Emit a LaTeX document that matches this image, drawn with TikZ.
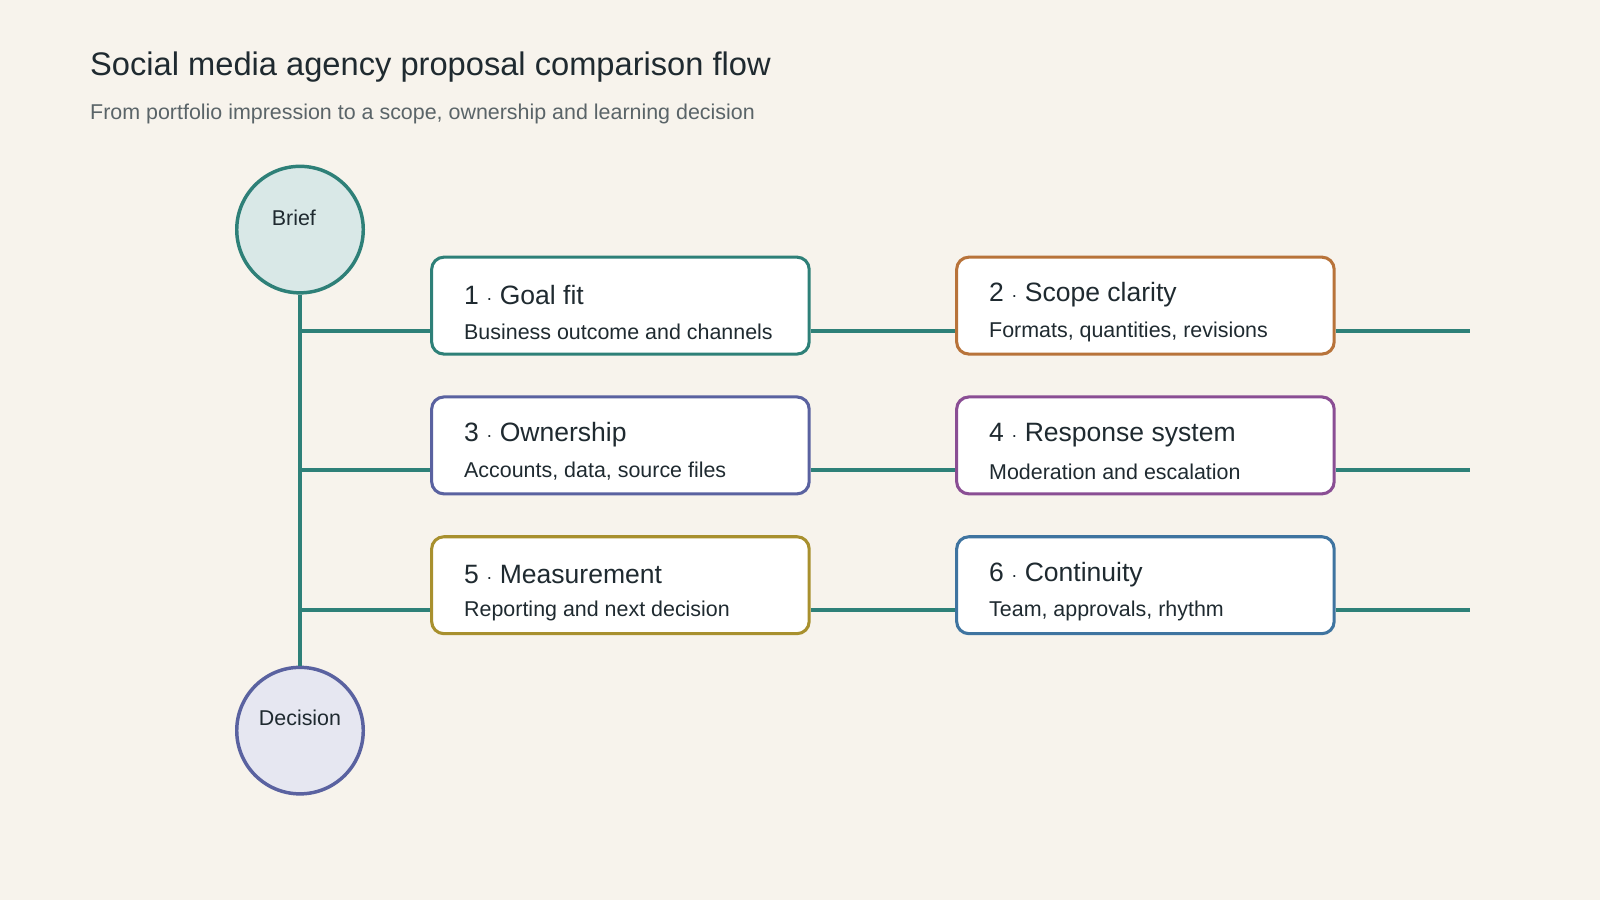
\documentclass[tikz,border=0pt]{standalone}
\usepackage{fontspec}
\setmainfont{Liberation Sans}
\usetikzlibrary{positioning,calc}
\definecolor{paper}{HTML}{F7F3EC}
\definecolor{ink}{HTML}{1F2A30}
\definecolor{muted}{HTML}{5A6468}
\definecolor{teal}{HTML}{2E8078}
\definecolor{copper}{HTML}{B8733A}
\definecolor{slate}{HTML}{5A62A0}
\definecolor{plum}{HTML}{8A4E94}
\definecolor{gold}{HTML}{A8902E}
\definecolor{steel}{HTML}{3F74A0}
\begin{document}
\begin{tikzpicture}[x=0.5pt, y=-0.5pt,
    step/.style={rectangle, draw=#1, line width=1.5pt, fill=white, rounded corners=6pt,
      minimum width=185pt, minimum height=47.5pt},
    hub/.style={circle, line width=1.7pt, minimum size=62pt, inner sep=0pt},
    head/.style={anchor=west, inner sep=0pt, text=ink, font=\fontsize{13}{15}\selectfont},
    sub/.style={anchor=west, inner sep=0pt, text=ink, font=\fontsize{10.5}{12}\selectfont},
    line/.style={draw=teal, line width=2pt}]

\fill[paper] (0,0) rectangle (1568,882);
\useasboundingbox (0,0) rectangle (1568,882);

\node[anchor=base west, inner sep=0pt, text=ink, font=\fontsize{16}{19}\selectfont] (title) at (88,74) {Social media agency proposal comparison flow};
\node[anchor=base west, inner sep=0pt, text=muted, font=\fontsize{10.5}{12}\selectfont] (subtitle) at (88,117) {From portfolio impression to a scope, ownership and learning decision};

\node[hub, draw=teal, fill=teal!18] (brief) at (294,225) {};
\node[text=ink, font=\fontsize{10.5}{12}\selectfont] at (288,213) {Brief};
\node[hub, draw=slate, fill=slate!15] (decision) at (294,716) {};
\node[text=ink, font=\fontsize{10.5}{12}\selectfont] at (294,703) {Decision};

\node[step=teal] (goal) at (608,299.5) {};
\node[step=copper] (scope) at (1122.5,299.5) {};
\node[step=slate] (owner) at (608,436.5) {};
\node[step=plum] (response) at (1122.5,436.5) {};
\node[step=gold] (measure) at (608,573.5) {};
\node[step=steel] (contin) at (1122.5,573.5) {};

\node[head] at ($(goal.west)+(33,-10.5)$) {1 {\small·} Goal fit};
\node[sub] at ($(goal.west)+(33,25.5)$) {Business outcome and channels};
\node[head] at ($(scope.west)+(33,-10.5)$) {2 {\small·} Scope clarity};
\node[sub] at ($(scope.west)+(33,25.5)$) {Formats, quantities, revisions};
\node[head] at ($(owner.west)+(33,-10.5)$) {3 {\small·} Ownership};
\node[sub] at ($(owner.west)+(33,25.5)$) {Accounts, data, source files};
\node[head] at ($(response.west)+(33,-10.5)$) {4 {\small·} Response system};
\node[sub] at ($(response.west)+(33,25.5)$) {Moderation and escalation};
\node[head] at ($(measure.west)+(33,-10.5)$) {5 {\small·} Measurement};
\node[sub] at ($(measure.west)+(33,25.5)$) {Reporting and next decision};
\node[head] at ($(contin.west)+(33,-10.5)$) {6 {\small·} Continuity};
\node[sub] at ($(contin.west)+(33,25.5)$) {Team, approvals, rhythm};

\coordinate (tap1) at (294,324);
\coordinate (tap2) at (294,461);
\coordinate (tap3) at (294,598);
\coordinate (out1) at (1441,324);
\coordinate (out2) at (1441,461);
\coordinate (out3) at (1441,598);

\begin{scope}[on background layer/.style={}]
\path [line] (brief.south) -- (decision.north);
\path [line] (tap1) -- (tap1 -| goal.west);
\path [line] (tap2) -- (tap2 -| owner.west);
\path [line] (tap3) -- (tap3 -| measure.west);
\path [line] (tap1 -| goal.east) -- (tap1 -| scope.west);
\path [line] (tap2 -| owner.east) -- (tap2 -| response.west);
\path [line] (tap3 -| measure.east) -- (tap3 -| contin.west);
\path [line] (tap1 -| scope.east) -- (out1);
\path [line] (tap2 -| response.east) -- (out2);
\path [line] (tap3 -| contin.east) -- (out3);
\end{scope}
\end{tikzpicture}
\end{document}
